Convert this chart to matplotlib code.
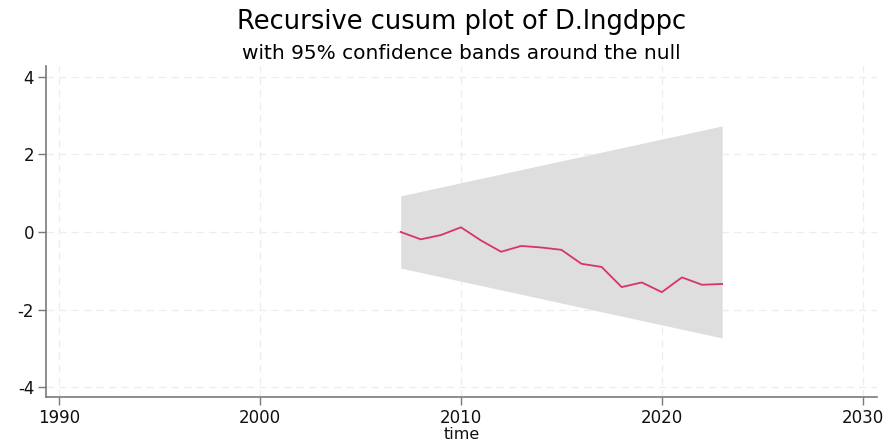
import numpy as np
import matplotlib
matplotlib.use("Agg")
from matplotlib import pyplot as plt

plt.rcParams['font.family'] = ['DejaVu Sans']
plt.rcParams['axes.unicode_minus'] = False

    #  Recursive cusum values of D.lngdppc, one per year

years = [2007, 2008, 2009, 2010, 2011, 2012, 2013, 2014, 2015,
         2016, 2017, 2018, 2019, 2020, 2021, 2022, 2023]
cusum = [0.00, -0.19, -0.08, 0.12, -0.22, -0.51, -0.36, -0.40, -0.46,
         -0.82, -0.90, -1.42, -1.30, -1.55, -1.17, -1.36, -1.34]

    #  95% band around the null (linear between the two ends)

bandYears = [2007, 2023]
bandUpper = [0.93, 2.73]
bandLower = [-0.93, -2.73]

xTicks = [1990, 2000, 2010, 2020, 2030]
yTicks = [-4, -2, 0, 2, 4]

fig = plt.figure(figsize=(8.92, 4.41), dpi=100)
ax = fig.add_axes([0.0516, 0.0998, 0.9314, 0.7502])

ax.fill_between(bandYears, bandLower, bandUpper, color='#dedede', linewidth=0, zorder=1)
ax.plot(years, cusum, color='#d8336a', linewidth=1.3, zorder=3)

ax.set_xlim(1989.35, 2030.7)
ax.set_ylim(-4.25, 4.27)
ax.set_xticks(xTicks)
ax.set_yticks(yTicks)

ax.grid(True, color='#ededed', linestyle=(0, (6, 4)), linewidth=0.9, zorder=0)
ax.set_axisbelow(True)

for side in ['top', 'right']:
    ax.spines[side].set_visible(False)
for side in ['left', 'bottom']:
    ax.spines[side].set_color('#7a7a7a')
    ax.spines[side].set_linewidth(1.2)

ax.tick_params(axis='both', colors='#7a7a7a', length=5.5, width=1, labelsize=12, labelcolor='#111111', pad=3)

ax.set_xlabel('time', fontsize=11.5, labelpad=0, color='#111111')

fig.text(0.517, 0.95, 'Recursive cusum plot of D.lngdppc', ha='center', va='center', fontsize=18.5)
fig.text(0.517, 0.879, 'with 95% confidence bands around the null', ha='center', va='center', fontsize=14.5)

plt.savefig('out.png', dpi=100)
